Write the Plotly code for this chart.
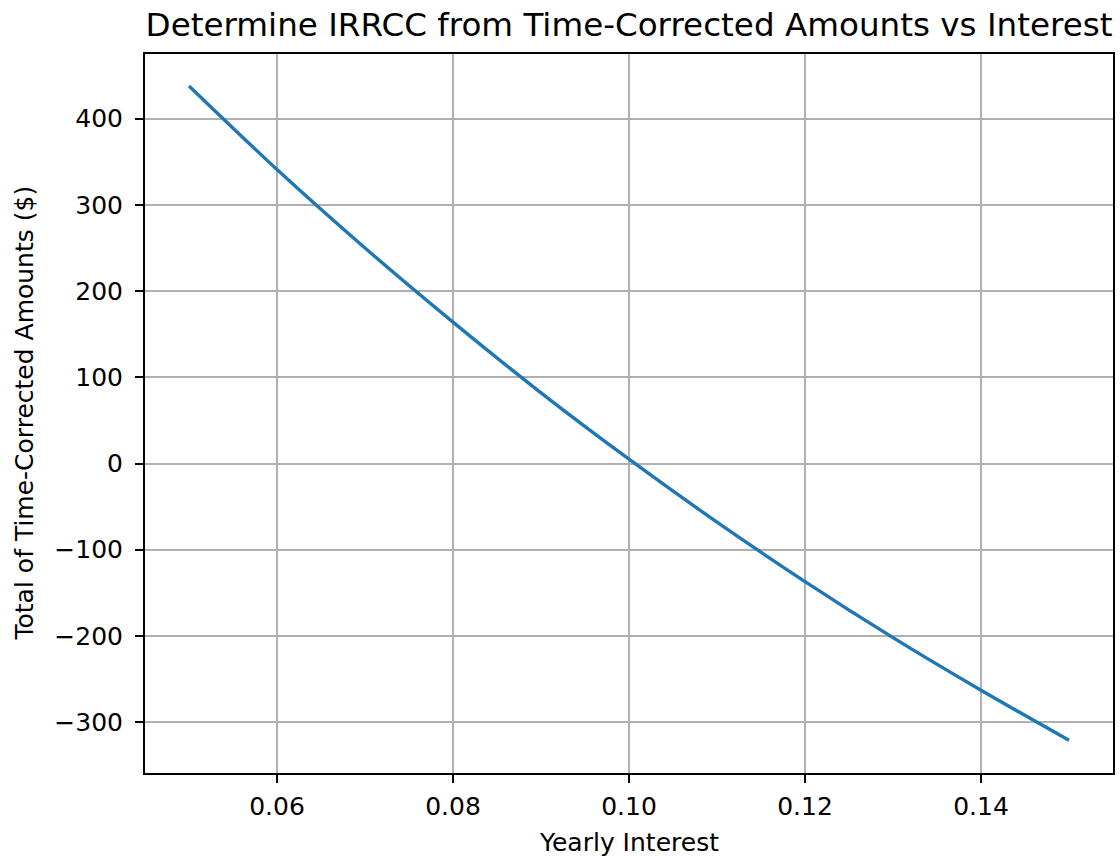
import plotly.graph_objects as go

# Data
yearly_interest = [0.05, 0.06, 0.07, 0.08, 0.09, 0.10, 0.11, 0.12, 0.13, 0.14, 0.15]
total_amounts = [438, 341, 250, 164, 82, 5, -68, -137, -202, -263, -321]

x_ticks = [0.06, 0.08, 0.10, 0.12, 0.14]
x_tick_labels = ["0.06", "0.08", "0.10", "0.12", "0.14"]
y_ticks = [-300, -200, -100, 0, 100, 200, 300, 400]
y_tick_labels = ["\u2212300", "\u2212200", "\u2212100", "0", "100", "200", "300", "400"]

FONT = "DejaVu Sans"
W, H = 1120, 859
L, R, T, B = 145, 7, 54, 86

fig = go.Figure()
fig.add_trace(go.Scatter(
    x=yearly_interest, y=total_amounts, mode="lines",
    line=dict(color="#1f77b4", width=3.4, shape="spline", smoothing=0.8),
    showlegend=False,
))

axis_common = dict(
    showline=True, linecolor="black", linewidth=2, mirror=True,
    ticks="outside", ticklen=8, tickwidth=2, tickcolor="black",
    showgrid=True, gridcolor="#b0b0b0", gridwidth=1.5,
    zeroline=False, automargin=False,
    tickfont=dict(family=FONT, size=25, color="black"),
)

fig.update_xaxes(
    range=[0.045, 0.155], tickvals=x_ticks, ticktext=x_tick_labels,
    ticklabelstandoff=2,
    **axis_common,
)
fig.update_yaxes(
    range=[-359, 475], tickvals=y_ticks, ticktext=y_tick_labels,
    ticklabelstandoff=7,
    **axis_common,
)

fig.add_annotation(
    text="Yearly Interest", xref="paper", x=0.5, yref="paper",
    y=-(842 - (H - B)) / (H - T - B), xanchor="center", yanchor="middle",
    showarrow=False, font=dict(family=FONT, size=25, color="black"),
)
fig.add_annotation(
    text="Total of Time-Corrected Amounts ($)", textangle=-90,
    xref="paper", x=-(L - 24) / (W - L - R), yref="paper", y=0.5,
    xanchor="center", yanchor="middle",
    showarrow=False, font=dict(family=FONT, size=25, color="black"),
)

fig.update_layout(
    width=W, height=H,
    margin=dict(l=L, r=R, t=T, b=B, pad=0, autoexpand=False),
    plot_bgcolor="white", paper_bgcolor="white",
    title=dict(
        text="Determine IRRCC from Time-Corrected Amounts vs Interest",
        font=dict(family=FONT, size=32.6, color="black"),
        x=0.5, xref="paper", xanchor="center",
        y=1 - 25 / H, yref="container", yanchor="middle",
    ),
)

fig.write_html(
    "out.html",
    config={"displayModeBar": False},
    post_script="document.body.style.margin='0';document.body.style.overflow='hidden';",
)
